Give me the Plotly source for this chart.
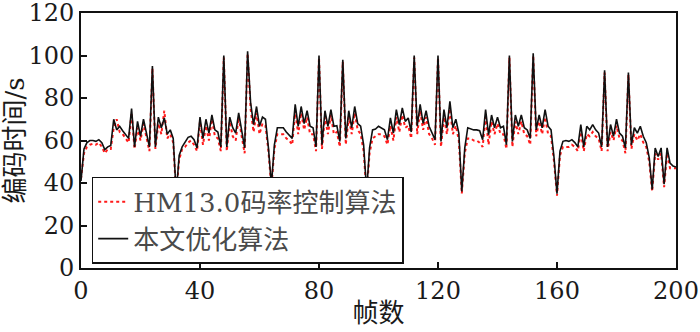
import plotly.graph_objects as go

frames = list(range(0, 201))

hm_values = [
    42, 54, 57, 58, 58.5, 58, 59, 57, 54, 56,
    56, 66, 70, 64, 63, 61, 59, 73, 56, 66,
    60, 68, 61, 55, 94, 56, 68, 63, 74, 61,
    63, 59, 35, 51, 56, 57, 59, 60, 58, 55,
    69, 58, 67, 60, 70, 62, 61, 55, 99, 55,
    69, 62, 60, 71, 62, 54, 101, 75, 64, 73,
    63, 68, 67, 55, 38, 56, 63, 63, 63, 61,
    60, 58, 74, 63, 73, 65, 71, 63, 63, 55,
    99, 56, 71, 63, 72, 63, 64, 57, 97, 58,
    71, 63, 73, 65, 63, 55, 35, 54, 61, 62,
    63, 63, 62, 58, 67, 60, 71, 64, 72, 66,
    67, 61, 99, 63, 74, 65, 71, 63, 61, 58,
    99, 57, 71, 63, 75, 63, 67, 60, 35, 54,
    61, 61, 60, 60, 59, 57, 71, 58, 69, 63,
    68, 63, 63, 56, 99, 57, 69, 63, 69, 63,
    62, 58, 100, 62, 69, 63, 71, 63, 62, 50,
    34, 53, 57, 57, 57, 58, 57, 55, 64, 55,
    63, 62, 64, 62, 61, 55, 92, 55, 64, 60,
    67, 61, 60, 54, 91, 56, 63, 60, 63, 59,
    57, 50, 36, 54, 51, 54, 38, 54, 47, 47,
    47,
]

ours_values = [
    41, 56, 59, 60, 60, 59.6, 60.4, 59, 55.7, 57,
    57.7, 70, 65, 66.7, 64.6, 62.7, 61, 75, 57, 69,
    62, 70, 64, 57, 95, 57, 71, 66, 70.6, 63,
    65, 61, 35, 53, 57, 59.6, 61.5, 62, 60.4, 56.5,
    71, 61, 70, 63.5, 72, 65, 64, 57, 100, 57,
    71, 66, 63.5, 73, 65, 56.5, 102, 78, 67.5, 76,
    66.7, 71, 70, 56.5, 39, 58, 66, 66, 66, 64,
    62.7, 61, 77, 66.7, 76, 68, 74, 66.7, 66, 57,
    100, 58, 74, 66.7, 74.5, 66.7, 67, 59.6, 98, 61,
    74, 66, 76, 68, 66.7, 58, 36, 56.5, 65, 65.4,
    66.7, 66, 65, 60.4, 70.6, 63.5, 74.5, 67.5, 75.3, 69,
    70.6, 64, 100, 66.7, 77, 68, 74, 66.7, 63.5, 60.4,
    100, 59.6, 74.5, 66, 78.4, 66, 70, 63.5, 36, 56.5,
    66, 65.4, 65, 65, 64.6, 60.4, 74.5, 62.7, 72, 66,
    71, 66, 66.7, 58, 100, 59.6, 72, 66.7, 72, 66,
    65, 61, 101, 65, 72, 66, 74.5, 66.7, 65, 52,
    35, 55, 59.6, 60, 59.6, 60.4, 59, 57, 67.5, 57,
    66.7, 65, 67.5, 65, 63.5, 57, 93, 57, 67.5, 62,
    70, 63.5, 62, 56.5, 92, 58, 66, 63.5, 66.7, 62,
    59, 52, 37, 56.5, 52.5, 56.5, 39.5, 56.5, 49.4, 48,
    47.5,
]

x_ticks = [0, 40, 80, 120, 160, 200]
y_ticks = [0, 20, 40, 60, 80, 100, 120]

series_names = ["HM13.0码率控制算法", "本文优化算法"]
x_title = "帧数"
y_title = "编码时间/s"

FONT = "DejaVu Serif, Noto Sans CJK SC"

fig = go.Figure()
fig.add_trace(go.Scatter(
    x=frames, y=hm_values, mode="lines", name=series_names[0],
    line=dict(color="#ff1a1a", width=2, dash="dot"),
))
fig.add_trace(go.Scatter(
    x=frames, y=ours_values, mode="lines", name=series_names[1],
    line=dict(color="#111111", width=1.6),
))

axis_common = dict(
    showline=True, linecolor="#111111", linewidth=2, mirror=True,
    ticks="inside", ticklen=6, tickwidth=1.5, tickcolor="#111111",
    showgrid=False, zeroline=False, automargin=False,
    ticklabeloverflow="allow",
    tickfont=dict(family=FONT, size=24, color="#1a1a1a"),
)

fig.update_xaxes(
    range=[0, 200], tickvals=x_ticks,
    title=dict(text=x_title, font=dict(family=FONT, size=26, color="#1a1a1a"), standoff=0),
    **axis_common,
)
fig.update_yaxes(
    range=[0, 120], tickvals=y_ticks,
    title=dict(text=y_title, font=dict(family=FONT, size=26, color="#1a1a1a"), standoff=2),
    **axis_common,
)

fig.update_layout(
    width=700, height=332,
    margin=dict(l=81, r=24, t=13, b=64),
    paper_bgcolor="white", plot_bgcolor="white",
    showlegend=True,
    legend=dict(
        x=0.018, y=0.016, xanchor="left", yanchor="bottom",
        bgcolor="white", bordercolor="#111111", borderwidth=1.5,
        font=dict(family=FONT, size=26, color="#4a4a4a"),
        tracegroupgap=0, itemwidth=30,
    ),
)

fig.write_html(
    "out.html",
    config={"displayModeBar": False},
    post_script="document.body.style.margin='0';document.body.style.overflow='hidden';",
)
